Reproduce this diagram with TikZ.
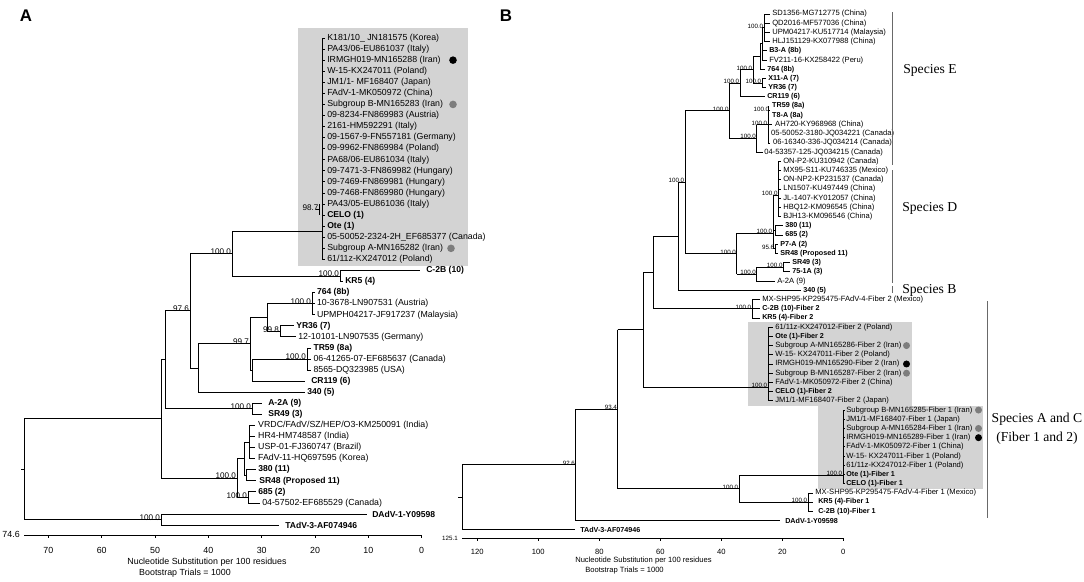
\documentclass[tikz,border=0pt]{standalone}
\usepackage{fontspec}
\setmainfont{Liberation Serif}
\setsansfont{Liberation Sans}
\definecolor{boxgray}{RGB}{211,211,211}
\definecolor{dotgray}{RGB}{125,125,125}
\definecolor{spgray}{RGB}{105,105,105}
% bold leaf names (narrower than the plain ones)
\newcommand{\ba}[1]{{\fontsize{6.1}{7}\selectfont\bfseries #1}}
\newcommand{\bb}[1]{{\fontsize{5.1}{6}\selectfont\bfseries #1}}
\begin{document}
\begin{tikzpicture}[x=0.025cm,y=-0.025cm,
    br/.style={line width=0.6pt},
    lfa/.style={anchor=west,inner sep=0pt,font=\sffamily\fontsize{6.25}{7}\selectfont},
    lfb/.style={anchor=west,inner sep=0pt,font=\sffamily\fontsize{5.4}{6}\selectfont},
    bsa/.style={anchor=south east,inner sep=0.4pt,yshift=-1.3pt,font=\sffamily\fontsize{5.8}{6}\selectfont},
    bsb/.style={anchor=south east,inner sep=0.3pt,yshift=-1pt,font=\sffamily\fontsize{4.4}{5}\selectfont},
    axa/.style={inner sep=0pt,font=\sffamily\fontsize{6.3}{7}\selectfont},
    axb/.style={inner sep=0pt,font=\sffamily\fontsize{5.4}{6}\selectfont},
    sp/.style={anchor=west,inner sep=0pt,font=\fontsize{9.7}{11}\selectfont},
    spl/.style={draw=spgray,line width=0.6pt},
    dot/.style={circle,inner sep=0pt,minimum size=0.19cm}]
\useasboundingbox (0,0) rectangle (1084,581);

% ---------------- panel A ----------------
\node[font=\sffamily\bfseries\fontsize{12}{12}\selectfont] (pa) at (26,16) {A};
\fill[boxgray] (298,28) rectangle (468,266);

% box clade
\draw[br] (322,38) -- (322,259.4);
\foreach \t [count=\i] in {K181/10\_ JN181575 (Korea), PA43/06-EU861037 (Italy),
    IRMGH019-MN165288 (Iran), W-15-KX247011 (Poland), JM1/1- MF168407 (Japan),
    FAdV-1-MK050972 (China), Subgroup B-MN165283 (Iran), 09-8234-FN869983 (Austria),
    2161-HM592291 (Italy), 09-1567-9-FN557181 (Germany), 09-9962-FN869984 (Poland),
    PA68/06-EU861034 (Italy), 09-7471-3-FN869982 (Hungary), 09-7469-FN869981 (Hungary),
    09-7468-FN869980 (Hungary), PA43/05-EU861036 (Italy), \ba{CELO (1)}, \ba{Ote (1)},
    05-50052-2324-2H\_EF685377 (Canada), Subgroup A-MN165282 (Iran), 61/11z-KX247012 (Poland)}
{
    \node[lfa] (ca\i) at (327,{38+11.07*(\i-1)}) {\t};
    \draw[br] (322,{38+11.07*(\i-1)}) -- (325,{38+11.07*(\i-1)});
}
\draw[br] (319.5,204.05) -- (319.5,215.12);
\draw[br] (316,209.6) -- (319.5,209.6) node[bsa] (s987) {98.7};
\node[dot,fill=black] (da1) at (453,60.14) {};
\node[dot,fill=dotgray] (da2) at (453,104.42) {};
\node[dot,fill=dotgray] (da3) at (451,248.33) {};

% root and backbone
\draw[br] (21,469.2) -- (24,469.2) (24,418.9) -- (24,519.55);
\draw[br] (24,418.9) -- (161,418.9) (161,359.8) -- (161,478);
\draw[br] (24,519.55) -- (161,519.55) node[bsa] {100.0};
\draw[br] (161,514.01) -- (161,525.08);
\draw[br] (161,514.01) -- (367,514.01);
\draw[br] (161,525.08) -- (279,525.08);
\node[lfa] (a44) at (372,514.01) {\ba{DAdV-1-Y09598}};
\node[lfa] (a45) at (285,525.08) {\ba{TAdV-3-AF074946}};

\draw[br] (161,359.8) -- (165,359.8) (165,310.77) -- (165,408.85);
\draw[br] (165,310.77) -- (190,310.77) node[bsa] {97.6};
\draw[br] (190,253.5) -- (190,368.03);
\draw[br] (190,253.5) -- (232,253.5) node[bsa] {100.0};
\draw[br] (232,231) -- (232,276) (232,231) -- (322,231);
% C-2B / KR5
\draw[br] (232,276) -- (340,276) node[bsa] {100.0};
\draw[br] (340,270.47) -- (340,281.54) (340,270.47) -- (420,270.47) (340,281.54) -- (343,281.54);
\node[lfa] (a22) at (426,270.47) {\ba{C-2B (10)}};
\node[lfa] (a23) at (345,281.54) {\ba{KR5 (4)}};

% serotype 5-8 clade
\draw[br] (190,368.03) -- (198,368.03) (198,343.81) -- (198,392.24) -- (305,392.24);
\node[lfa] (a33) at (307,392.24) {\ba{340 (5)}};
\draw[br] (198,343.81) -- (250,343.81) node[bsa] {99.7};
\draw[br] (250,317.52) -- (250,370.1) (250,317.52) -- (267,317.52);
\draw[br] (267,303.68) -- (267,331.36);
\draw[br] (267,303.68) -- (312,303.68) node[bsa] {100.0};
\draw[br] (312,292.61) -- (312,314.75);
\foreach \t/\y in {\ba{764 (8b)}/292.61, 10-3678-LN907531 (Austria)/303.68, UPMPH04217-JF917237 (Malaysia)/314.75}
    \draw[br] (312,\y) -- (314.5,\y) node[lfa,xshift=1.5pt] {\t};
\draw[br] (267,331.36) -- (280,331.36) node[bsa] {99.8};
\draw[br] (280,325.82) -- (280,336.89) (280,325.82) -- (294,325.82) (280,336.89) -- (296,336.89);
\node[lfa] (a27) at (296,325.82) {\ba{YR36 (7)}};
\node[lfa] (a28) at (298,336.89) {12-10101-LN907535 (Germany)};
\draw[br] (250,370.1) -- (252,370.1) (252,359.03) -- (252,381.17) -- (305,381.17);
\node[lfa] (a32) at (311,381.17) {\ba{CR119 (6)}};
\draw[br] (252,359.03) -- (307,359.03) node[bsa] {100.0};
\draw[br] (307,347.96) -- (307,370.1);
\foreach \t/\y in {\ba{TR59 (8a)}/347.96, 06-41265-07-EF685637 (Canada)/359.03, 8565-DQ323985 (USA)/370.1}
    \draw[br] (307,\y) -- (311,\y) node[lfa,xshift=1.5pt] {\t};

% A-2A / SR49
\draw[br] (165,408.85) -- (252,408.85) node[bsa] {100.0};
\draw[br] (252,403.31) -- (252,414.38) (252,403.31) -- (262,403.31) (252,414.38) -- (262,414.38);
\node[lfa] (a34) at (268,403.31) {\ba{A-2A (9)}};
\node[lfa] (a35) at (268,414.38) {\ba{SR49 (3)}};

% serotype 2/11 clade
\draw[br] (161,478.03) -- (237,478.03) node[bsa] {100.0};
\draw[br] (237,458.66) -- (237,497.4) (237,458.66) -- (244,458.66);
\draw[br] (244,442.06) -- (244,475.27) (244,442.06) -- (249,442.06);
\draw[br] (249,425.45) -- (249,458.66);
\foreach \t/\y in {{VRDC/FAdV/SZ/HEP/O3-KM250091 (India)}/425.45, HR4-HM748587 (India)/436.52,
    USP-01-FJ360747 (Brazil)/447.59, FAdV-11-HQ697595 (Korea)/458.66}
    \draw[br] (249,\y) -- (255,\y) node[lfa,xshift=2pt] {\t};
\draw[br] (244,475.27) -- (246,475.27) (246,469.73) -- (246,480.8);
\draw[br] (246,469.73) -- (256,469.73) (246,480.8) -- (256,480.8);
\node[lfa] (a40) at (258,469.73) {\ba{380 (11)}};
\node[lfa] (a41) at (259,480.8) {\ba{SR48 (Proposed 11)}};
\draw[br] (237,497.4) -- (248,497.4) node[bsa] {100.0};
\draw[br] (248,491.87) -- (248,502.94) (248,491.87) -- (256,491.87) (248,502.94) -- (260,502.94);
\node[lfa] (a42) at (258,491.87) {\ba{685 (2)}};
\node[lfa] (a43) at (262,502.94) {04-57502-EF685529 (Canada)};

% scale A
\draw[br] (24,535) -- (421.7,535);
\foreach \v in {0,10,...,70}
{
    \draw[br] ({421.7-5.333*\v},535) -- ({421.7-5.333*\v},538);
    \node[axa] (ta\v) at ({421.7-5.333*\v},550) {\v};
}
\node[axa,anchor=east] (ta746) at (20,534) {74.6};
\node[axa] (capa1) at (207,562) {Nucleotide Substitution per 100 residues};
\node[axa] (capa2) at (185,573) {Bootstrap Trials = 1000};

% ---------------- panel B ----------------
\node[font=\sffamily\bfseries\fontsize{12}{12}\selectfont] (pb) at (506,16) {B};
\fill[boxgray] (748,322) rectangle (912,405.6);
\fill[boxgray] (818,405.6) rectangle (983,489);

% species E
\draw[br] (764,14) -- (764,41.63);
\foreach \t [count=\i] in {SD1356-MG712775 (China), QD2016-MF577036 (China),
    UPM04217-KU517714 (Malaysia), HLJ151129-KX077988 (China)}
{
    \node[lfb] (e\i) at (772,{14+9.21*(\i-1)}) {\t};
    \draw[br] (764,{14+9.21*(\i-1)}) -- (770,{14+9.21*(\i-1)});
}
\draw[br] (762,27.8) -- (764,27.8) node[bsb] {100.0};
\draw[br] (762,27.8) -- (762,60.05) (762,50.84) -- (767,50.84) (762,60.05) -- (767,60.05);
\node[lfb] (e5) at (769,50.84) {\bb{B3-A (8b)}};
\node[lfb] (e6) at (769,60.05) {FV211-16-KX258422 (Peru)};
\draw[br] (760,43.9) -- (762,43.9) (760,43.9) -- (760,69.26) -- (765,69.26);
\node[lfb] (e7) at (767,69.26) {\bb{764 (8b)}};
\draw[br] (753,56.6) -- (760,56.6) (753,56.6) -- (753,83.08);
\draw[br] (753,83.08) -- (762,83.08) node[bsb] {100.0};
\draw[br] (762,78.47) -- (762,87.68) (762,78.47) -- (766,78.47) (762,87.68) -- (766,87.68);
\node[lfb] (e8) at (768,78.47) {\bb{X11-A (7)}};
\node[lfb] (e9) at (768,87.68) {\bb{YR36 (7)}};
\draw[br] (740,69.84) -- (753,69.84) node[bsb] {100.0};
\draw[br] (740,69.84) -- (740,96.89) -- (765,96.89);
\node[lfb] (e10) at (767,96.89) {\bb{CR119 (6)}};
\draw[br] (768,106.1) -- (768,142.94);
\foreach \t/\y/\x in {\bb{TR59 (8a)}/106.1/771, \bb{T8-A (8a)}/115.31/771,
    AH720-KY968968 (China)/124.52/774, 05-50052-3180-JQ034221 (Canada)/133.73/770,
    06-16340-336-JQ034214 (Canada)/142.94/772}
    \draw[br] (768,\y) -- ({\x-2},\y) node[lfb,xshift=2pt] {\t};
\draw[br] (768,110.7) -- (770,110.7) node[bsb] {100.0};
\draw[br] (756.7,124.5) -- (768,124.5) node[bsb] {100.0};
\draw[br] (756.7,124.5) -- (756.7,152.15) -- (763,152.15);
\node[lfb] (e16) at (764,152.15) {04-53357-125-JQ034215 (Canada)};
\draw[br] (729.3,83.37) -- (740,83.37) node[bsb] {100.0};
\draw[br] (729.3,83.37) -- (729.3,138.3);
\draw[br] (729.3,138.3) -- (756.7,138.3) node[bsb] {100.0};

% species D
\draw[br] (778.3,161.36) -- (778.3,216.62);
\foreach \t [count=\i] in {ON-P2-KU310942 (Canada), MX95-S11-KU746335 (Mexico),
    ON-NP2-KP231537 (Canada), LN1507-KU497449 (China), JL-1407-KY012057 (China),
    HBQ12-KM096545 (China), BJH13-KM096546 (China)}
{
    \node[lfb] (d\i) at (783,{161.36+9.21*(\i-1)}) {\t};
    \draw[br] (778.3,{161.36+9.21*(\i-1)}) -- (781,{161.36+9.21*(\i-1)});
}
\draw[br] (775,225.83) -- (775,235.04) (775,225.83) -- (783,225.83) (775,235.04) -- (783,235.04);
\node[lfb] (d8) at (785,225.83) {\bb{380 (11)}};
\node[lfb] (d9) at (785,235.04) {\bb{685 (2)}};
\draw[br] (775,244.25) -- (775,253.46) (775,244.25) -- (778,244.25) (775,253.46) -- (778,253.46);
\node[lfb] (d10) at (780,244.25) {\bb{P7-A (2)}};
\node[lfb] (d11) at (780,253.46) {\bb{SR48 (Proposed 11)}};
\draw[br] (773,195) -- (778.3,195) node[bsb] {100.0};
\draw[br] (773,195) -- (773,248.86) (773,230.44) -- (775,230.44);
\draw[br] (773,248.86) -- (775,248.86) node[bsb] {95.6};
\draw[br] (783.3,262.67) -- (783.3,271.88) (783.3,262.67) -- (790,262.67) (783.3,271.88) -- (790,271.88);
\node[lfb] (d12) at (792,262.67) {\bb{SR49 (3)}};
\node[lfb] (d13) at (792,271.88) {\bb{75-1A (3)}};
\draw[br] (756.7,267.28) -- (783.3,267.28) node[bsb] {100.0};
\draw[br] (756.7,267.28) -- (756.7,281.09) -- (775,281.09);
\node[lfb] (d14) at (777,281.09) {A-2A (9)};
\draw[br] (736.7,233.3) -- (773,233.3) node[bsb] {100.0};
\draw[br] (736.7,233.3) -- (736.7,274.19);
\draw[br] (736.7,274.19) -- (756.7,274.19) node[bsb] {100.0};

% E + D, species B
\draw[br] (685,110.85) -- (729.3,110.85) node[bsb] {100.0};
\draw[br] (685,110.85) -- (685,253.7);
\draw[br] (685,253.7) -- (736.7,253.7) node[bsb] {100.0};
\draw[br] (678.3,182.3) -- (685,182.3) node[bsb] {100.0};
\draw[br] (678.3,182.3) -- (678.3,290.3) -- (801,290.3);
\node[lfb] (b31) at (803,290.3) {\bb{340 (5)}};

% fiber 2
\draw[br] (752,299.51) -- (752,317.93);
\foreach \t [count=\i] in {MX-SHP95-KP295475-FAdV-4-Fiber 2 (Mexico), \bb{C-2B (10)-Fiber 2}, \bb{KR5 (4)-Fiber 2}}
{
    \node[lfb] (f\i) at (762,{299.51+9.21*(\i-1)}) {\t};
    \draw[br] (752,{299.51+9.21*(\i-1)}) -- (760,{299.51+9.21*(\i-1)});
}
\draw[br] (653,236.3) -- (678.3,236.3) (653,236.3) -- (653,308.72);
\draw[br] (653,308.72) -- (752,308.72) node[bsb] {100.0};
\draw[br] (768,327.14) -- (768,400.82);
\foreach \t [count=\i] in {61/11z-KX247012-Fiber 2 (Poland), \bb{Ote (1)-Fiber 2},
    Subgroup A-MN165286-Fiber 2 (Iran), W-15- KX247011-Fiber 2 (Poland),
    IRMGH019-MN165290-Fiber 2 (Iran), Subgroup B-MN165287-Fiber 2 (Iran),
    FAdV-1-MK050972-Fiber 2 (China), \bb{CELO (1)-Fiber 2}, JM1/1-MF168407-Fiber 2 (Japan)}
{
    \node[lfb] (g\i) at (775,{327.14+9.21*(\i-1)}) {\t};
    \draw[br] (768,{327.14+9.21*(\i-1)}) -- (773,{327.14+9.21*(\i-1)});
}
\node[dot,fill=dotgray,minimum size=0.175cm] (db1) at (906.5,345.56) {};
\node[dot,fill=black,minimum size=0.175cm] (db2) at (906.5,363.98) {};
\node[dot,fill=dotgray,minimum size=0.175cm] (db3) at (906.5,373.19) {};
\draw[br] (643,272.5) -- (653,272.5) (643,272.5) -- (643,387);
\draw[br] (643,387) -- (768,387) node[bsb] {100.0};

% fiber 1
\draw[br] (843,410.03) -- (843,483.71);
\foreach \t [count=\i] in {Subgroup B-MN165285-Fiber 1 (Iran), JM1/1-MF168407-Fiber 1 (Japan),
    Subgroup A-MN165284-Fiber 1 (Iran), IRMGH019-MN165289-Fiber 1 (Iran),
    FAdV-1-MK050972-Fiber 1 (China), W-15- KX247011-Fiber 1 (Poland),
    61/11z-KX247012-Fiber 1 (Poland), \bb{Ote (1)-Fiber 1}, \bb{CELO (1)-Fiber 1}}
{
    \node[lfb] (h\i) at (846,{410.03+9.21*(\i-1)}) {\t};
    \draw[br] (843,{410.03+9.21*(\i-1)}) -- (845,{410.03+9.21*(\i-1)});
}
\node[dot,fill=dotgray,minimum size=0.175cm] (db4) at (978.5,410.03) {};
\node[dot,fill=dotgray,minimum size=0.175cm] (db5) at (978.5,428.45) {};
\node[dot,fill=black,minimum size=0.175cm] (db6) at (978.5,437.66) {};
\draw[br] (808,492.92) -- (808,511.34);
\foreach \t/\x [count=\i] in {MX-SHP95-KP295475-FAdV-4-Fiber 1 (Mexico)/815, \bb{KR5 (4)-Fiber 1}/818, \bb{C-2B (10)-Fiber 1}/818}
{
    \node[lfb] (k\i) at (\x,{492.92+9.21*(\i-1)}) {\t};
    \draw[br] (808,{492.92+9.21*(\i-1)}) -- (813,{492.92+9.21*(\i-1)});
}
\draw[br] (739,475) -- (843,475) node[bsb] {100.0};
\draw[br] (739,475) -- (739,502.13);
\draw[br] (739,502.13) -- (808,502.13) node[bsb] {100.0};

% backbone B
\draw[br] (617.7,329.7) -- (643,329.7) (617.7,329.7) -- (617.7,488.57);
\draw[br] (617.7,488.57) -- (739,488.57) node[bsb] {100.0};
\draw[br] (575.7,409) -- (617.7,409) node[bsb] {93.4};
\draw[br] (575.7,409) -- (575.7,520.55) -- (780,520.55);
\node[lfb] (m56) at (785,520.55) {\bb{DAdV-1-Y09598}};
\draw[br] (462,464.8) -- (575.7,464.8) node[bsb] {92.6};
\draw[br] (462,464.8) -- (462,529.76) -- (575,529.76);
\node[lfb] (m57) at (580,529.76) {\bb{TAdV-3-AF074946}};
\draw[br] (458,497.3) -- (462,497.3);

% species brackets
\draw[spl] (892,12) -- (892,165);
\draw[spl] (892,170) -- (892,283);
\draw[spl] (892,286) -- (892,293);
\draw[spl] (987,301) -- (987,518);
\node[sp] (spe) at (903,70) {Species E};
\node[sp] (spd) at (902,208) {Species D};
\node[sp] (spb) at (902,290) {Species B};
\node[sp,anchor=center] (spac) at (1037,419) {Species A and C};
\node[sp,anchor=center] (spac2) at (1037,438) {(Fiber 1 and 2)};

% scale B
\draw[br] (462,538) -- (843.3,538);
\foreach \v in {0,20,...,120}
{
    \draw[br] ({843.3-3.05*\v},538) -- ({843.3-3.05*\v},541);
    \node[axb] (tb\v) at ({843.3-3.05*\v},552) {\v};
}
\node[axb,anchor=east,font=\sffamily\fontsize{4.4}{5}\selectfont] (tb1251) at (458,538) {125.1};
\node[axb,anchor=west] (capb1) at (575,561) {Nucleotide Substitution per 100 residues};
\node[axb,anchor=west] (capb2) at (585,571) {Bootstrap Trials = 1000};
\end{tikzpicture}
\end{document}
